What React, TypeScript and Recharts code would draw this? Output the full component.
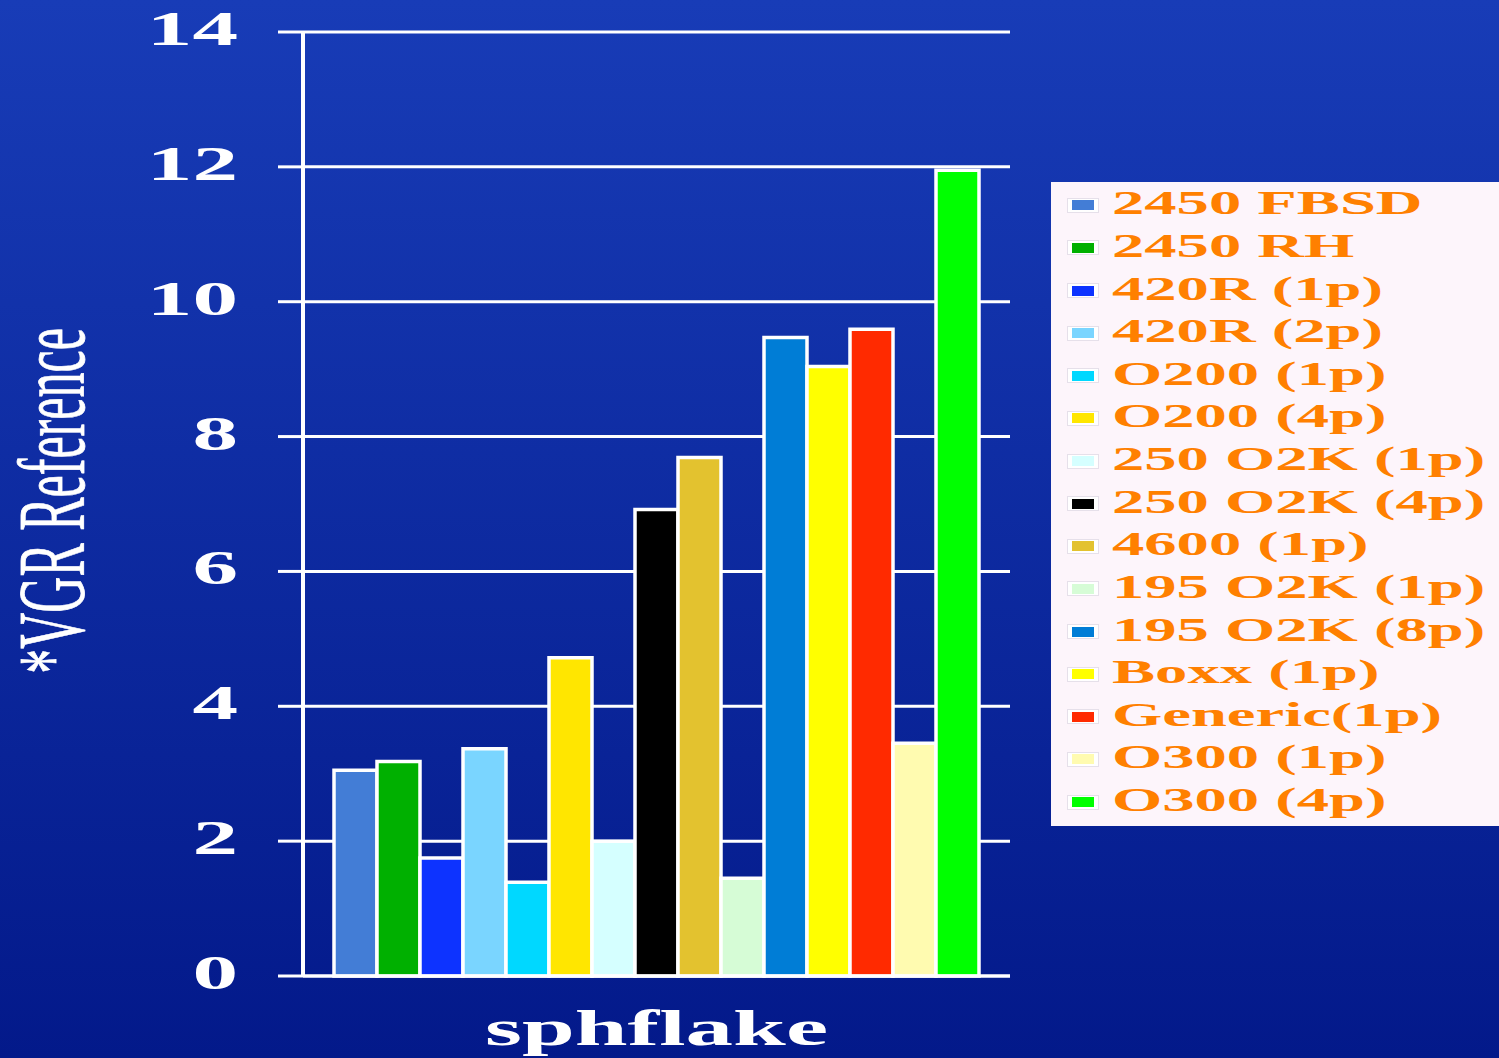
import { BarChart, Bar, XAxis, YAxis, CartesianGrid, Legend, Label } from 'recharts';

const categories = ['sphflake'];
const seriesNames = [
  '2450 FBSD',
  '2450 RH',
  '420R (1p)',
  '420R (2p)',
  'O200 (1p)',
  'O200 (4p)',
  '250 O2K (1p)',
  '250 O2K (4p)',
  '4600 (1p)',
  '195 O2K (1p)',
  '195 O2K (8p)',
  'Boxx (1p)',
  'Generic(1p)',
  'O300 (1p)',
  'O300 (4p)',
];
const seriesValues = [3.05, 3.18, 1.75, 3.37, 1.39, 4.72, 2.0, 6.92, 7.69, 1.45, 9.47, 9.04, 9.59, 3.45, 11.95];
const seriesColors = [
  '#437dd6',
  '#00b000',
  '#0d33ff',
  '#7ad5ff',
  '#00d8ff',
  '#ffe600',
  '#d5ffff',
  '#000000',
  '#e3c22f',
  '#d6fcd6',
  '#007dd6',
  '#ffff00',
  '#ff2a00',
  '#fffbb0',
  '#00ff00',
];
const yTicks = [0, 2, 4, 6, 8, 10, 12, 14];

const data = categories.map((name) => {
  const row: Record<string, string | number> = { name };
  seriesValues.forEach((v, i) => {
    row[`s${i}`] = v;
  });
  return row;
});

// the source slide is stretched sideways, so every text gets the same x scale
const STRETCH = 1.9;

const YTick = ({ x, y, payload }: any) => (
  <g transform={`translate(${x},${y}) scale(${STRETCH},1)`}>
    <text
      x={0}
      y={13}
      textAnchor="end"
      fill="#fff"
      fontFamily="Liberation Serif"
      fontWeight="bold"
      fontSize={48}
    >
      {payload.value}
    </text>
  </g>
);

const XTick = ({ x, y, payload }: any) => (
  <g transform={`translate(${x},${y}) scale(${STRETCH},1)`}>
    <text
      x={0}
      y={69}
      textAnchor="middle"
      fill="#fff"
      fontFamily="Liberation Serif"
      fontWeight="bold"
      fontSize={50}
    >
      {payload.value}
    </text>
  </g>
);

const YLabel = (props: any) => {
  const vb = props.viewBox;
  const cy = vb.y + vb.height / 2 - 3;
  return (
    <g transform={`translate(84,${cy}) scale(${STRETCH},1) rotate(-90)`}>
      <text
        x={0}
        y={0}
        textAnchor="middle"
        fill="#fff"
        stroke="#fff"
        strokeWidth={0.4}
        fontFamily="Liberation Serif"
        fontSize={50}
      >
        *VGR Reference
      </text>
    </g>
  );
};

const LegendBox = () => (
  <div
    style={{
      width: 448,
      height: 644,
      background: '#fdf5fb',
      boxSizing: 'border-box',
      paddingLeft: 16,
    }}
  >
    <div style={{ marginTop: -1 }}>
      {seriesNames.map((n, i) => (
        <div key={n} style={{ height: 42.64, display: 'flex', alignItems: 'center' }}>
          <div
            style={{
              width: 30,
              height: 13,
              border: '1px solid #e6e0ea',
              background: '#fff',
              display: 'flex',
              alignItems: 'center',
              justifyContent: 'center',
              marginTop: 4,
            }}
          >
            <div style={{ width: 22, height: 10, background: seriesColors[i] }} />
          </div>
          <span
            style={{
              display: 'inline-block',
              marginLeft: 13,
              transform: `scaleX(${STRETCH})`,
              transformOrigin: 'left center',
              whiteSpace: 'nowrap',
              fontFamily: 'Liberation Serif',
              fontWeight: 'bold',
              fontSize: 34,
              lineHeight: '42px',
              color: '#ff8000',
            }}
          >
            {n}
          </span>
        </div>
      ))}
    </div>
  </div>
);

export default function App() {
  return (
    <div
      style={{
        position: 'absolute',
        left: 0,
        top: 0,
        width: 1499,
        height: 1058,
        overflow: 'hidden',
        background: 'linear-gradient(to bottom, #183cb7, #03198a)',
      }}
    >
      <BarChart
        width={1499}
        height={1058}
        data={data}
        margin={{ top: 32, right: 489, left: 0, bottom: 0 }}
        barGap={0}
        barCategoryGap={31}
      >
        <CartesianGrid vertical={false} stroke="#fff" strokeWidth={3} />
        <XAxis
          dataKey="name"
          height={82}
          tick={<XTick />}
          tickLine={false}
          tickSize={0}
          tickMargin={0}
          axisLine={{ stroke: '#fff', strokeWidth: 3 }}
        />
        <YAxis
          width={303}
          domain={[0, 14]}
          ticks={yTicks}
          interval={0}
          tick={<YTick />}
          tickSize={25}
          tickMargin={40}
          tickLine={{ stroke: '#fff', strokeWidth: 3 }}
          axisLine={{ stroke: '#fff', strokeWidth: 4 }}
        >
          <Label content={<YLabel />} />
        </YAxis>
        <YAxis
          yAxisId="r"
          orientation="right"
          width={0}
          domain={[0, 14]}
          tick={false}
          tickLine={false}
          axisLine={{ stroke: '#fff', strokeWidth: 4 }}
        />
        <Legend
          layout="horizontal"
          verticalAlign="middle"
          align="center"
          wrapperStyle={{ left: 1051, top: 183, width: 448, height: 644 }}
          content={<LegendBox />}
        />
        {seriesNames.map((n, i) => (
          <Bar
            key={n}
            dataKey={`s${i}`}
            name={n}
            fill={seriesColors[i]}
            stroke="#fff"
            strokeWidth={3.5}
            isAnimationActive={false}
          />
        ))}
      </BarChart>
    </div>
  );
}
